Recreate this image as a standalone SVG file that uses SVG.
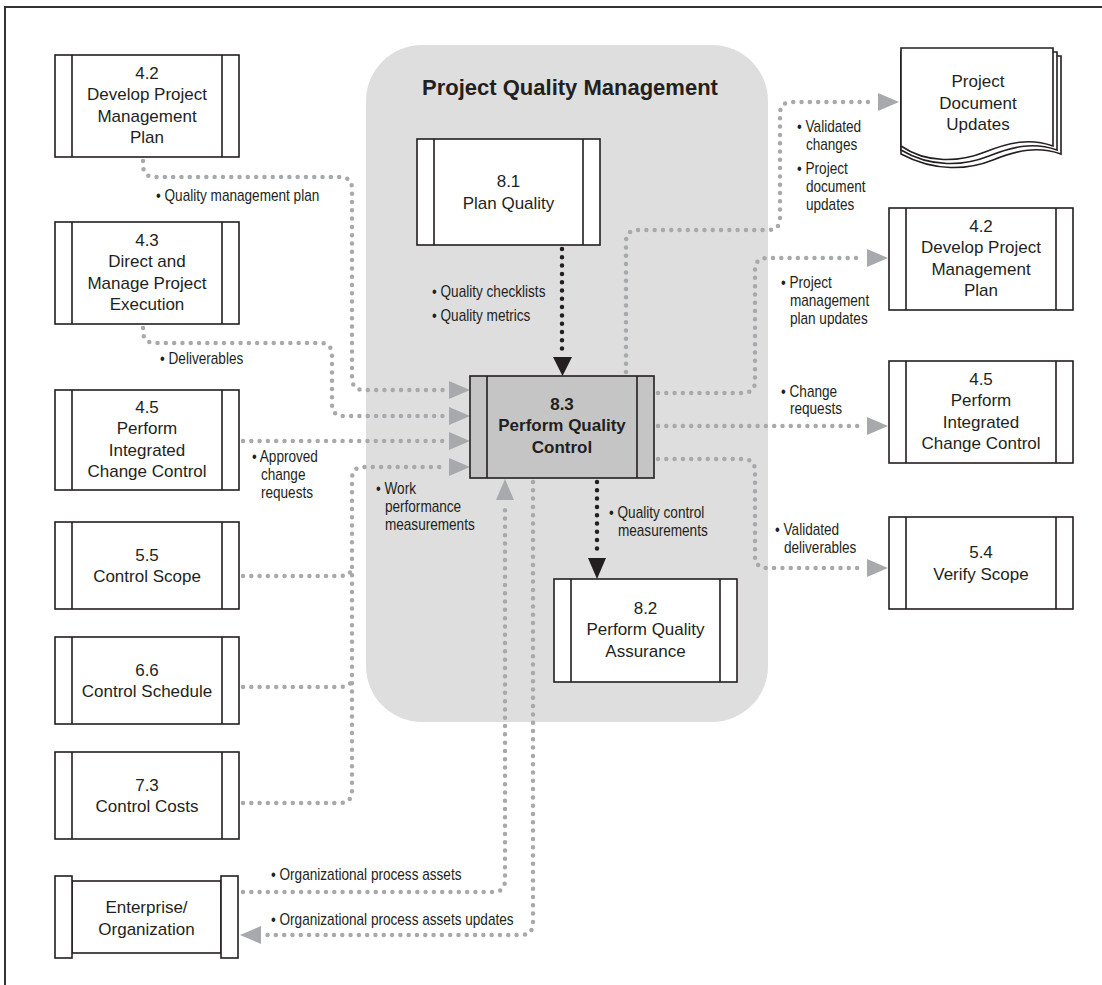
<svg xmlns="http://www.w3.org/2000/svg" width="1102" height="985" viewBox="0 0 1102 985">
<style>
.box{fill:#fff;stroke:#231f20;stroke-width:1.6}
.hot{fill:#c5c5c5}
.bar{stroke:#231f20;stroke-width:1.6;fill:none}
.t{font-family:"Liberation Sans",Arial,sans-serif;font-size:17px;fill:#231f20;text-anchor:middle}
.tb{font-weight:bold}
.lbl{font-family:"Liberation Sans",Arial,sans-serif;font-size:16px;fill:#231f20}
.g{fill:none;stroke:#a7a9ac;stroke-width:4.5;stroke-linecap:round;stroke-dasharray:0 8.3}
.k{fill:none;stroke:#231f20;stroke-width:4.5;stroke-linecap:round;stroke-dasharray:0 8.3}
.ga{fill:#a7a9ac}
.ka{fill:#231f20}
</style>
<rect width="1102" height="985" fill="#fff"/>
<path d="M5,985 V7 H1102" fill="none" stroke="#333" stroke-width="2"/>
<g id="panel">
<rect x="366" y="45" width="402" height="677" rx="56" fill="#dedede"/>
<text x="570" y="95" class="t tb" style="font-size:22px">Project Quality Management</text>
</g>
<g id="connectors">
<path class="g" d="M143,161 V165 Q143,177 155,177 H340 Q352,177 352,189 V378 Q352,390 364,390 H446"/>
<polygon class="ga" points="449,381 470,390 449,399"/>
<path class="g" d="M143,328 V331 Q143,343 155,343 H320 Q332,343 332,355 V404 Q332,416 344,416 H446"/>
<polygon class="ga" points="449,407 470,416 449,425"/>
<path class="g" d="M243,441 H446"/>
<polygon class="ga" points="449,432 470,441 449,450"/>
<path class="g" d="M243,803 H340 Q352,803 352,791 V479 Q352,467 364,467 H446"/>
<path class="g" d="M243,576 H340 Q352,576 352,566"/>
<path class="g" d="M243,687 H340 Q352,687 352,677"/>
<polygon class="ga" points="449,458 470,467 449,476"/>
<path class="k" d="M562,249 V354"/>
<polygon class="ka" points="553,357 572,357 562.5,376"/>
<path class="k" d="M597,482 V555"/>
<polygon class="ka" points="588,558 606,558 597,579"/>
<path class="g" d="M626,372 V242 Q626,230 638,230 H768 Q780,230 780,218 V114 Q780,102 792,102 H875"/>
<polygon class="ga" points="878,93 899,102 878,111"/>
<path class="g" d="M658,393 H743 Q755,393 755,381 V270 Q755,258 767,258 H864"/>
<polygon class="ga" points="867,249 888,258 867,267"/>
<path class="g" d="M658,426 H864"/>
<polygon class="ga" points="867,417 888,426 867,435"/>
<path class="g" d="M658,459 H743 Q755,459 755,471 V556 Q755,568 767,568 H864"/>
<polygon class="ga" points="867,559 888,568 867,577"/>
<path class="g" d="M243,892 H493 Q505,892 505,880 V503"/>
<polygon class="ga" points="496,500 514,500 505,479"/>
<path class="g" d="M533,482 V923 Q533,935 521,935 H264"/>
<polygon class="ga" points="261,926 261,944 240,935"/>
</g>
<g id="labels" class="lbl">
<text transform="translate(156,201) scale(0.85,1)">• Quality management plan</text>
<text transform="translate(160,364) scale(0.85,1)">• Deliverables</text>
<text transform="translate(252,462) scale(0.85,1)">• Approved<tspan x="10.5" y="18">change</tspan><tspan x="10.5" y="36">requests</tspan></text>
<text transform="translate(376,494) scale(0.85,1)">• Work<tspan x="10.5" y="18">performance</tspan><tspan x="10.5" y="36">measurements</tspan></text>
<text transform="translate(432,297) scale(0.85,1)">• Quality checklists</text>
<text transform="translate(432,321) scale(0.85,1)">• Quality metrics</text>
<text transform="translate(609,518) scale(0.85,1)">• Quality control<tspan x="10.5" y="18">measurements</tspan></text>
<text transform="translate(797,132) scale(0.85,1)">• Validated<tspan x="10.5" y="18">changes</tspan></text>
<text transform="translate(797,174) scale(0.85,1)">• Project<tspan x="10.5" y="18">document</tspan><tspan x="10.5" y="36">updates</tspan></text>
<text transform="translate(781,288) scale(0.85,1)">• Project<tspan x="10.5" y="18">management</tspan><tspan x="10.5" y="36">plan updates</tspan></text>
<text transform="translate(781,397) scale(0.85,1)">• Change<tspan x="10.5" y="17">requests</tspan></text>
<text transform="translate(775,535) scale(0.85,1)">• Validated<tspan x="10.5" y="18">deliverables</tspan></text>
<text transform="translate(271,880) scale(0.85,1)">• Organizational process assets</text>
<text transform="translate(271,925) scale(0.85,1)">• Organizational process assets updates</text>
</g>
<g id="n42a">
<rect class="box" x="55" y="55" width="184" height="102"/>
<path class="bar" d="M72,55 V157 M222,55 V157"/>
<text class="t" x="147" y="78.75">4.2<tspan x="147" y="100.25">Develop Project</tspan><tspan x="147" y="121.75">Management</tspan><tspan x="147" y="143.25">Plan</tspan></text>
</g>
<g id="n43">
<rect class="box" x="55" y="222" width="184" height="102"/>
<path class="bar" d="M72,222 V324 M222,222 V324"/>
<text class="t" x="147" y="245.75">4.3<tspan x="147" y="267.25">Direct and</tspan><tspan x="147" y="288.75">Manage Project</tspan><tspan x="147" y="310.25">Execution</tspan></text>
</g>
<g id="n45a">
<rect class="box" x="55" y="390" width="184" height="100"/>
<path class="bar" d="M72,390 V490 M222,390 V490"/>
<text class="t" x="147" y="412.75">4.5<tspan x="147" y="434.25">Perform</tspan><tspan x="147" y="455.75">Integrated</tspan><tspan x="147" y="477.25">Change Control</tspan></text>
</g>
<g id="n55">
<rect class="box" x="55" y="522" width="184" height="87"/>
<path class="bar" d="M72,522 V609 M222,522 V609"/>
<text class="t" x="147" y="560.75">5.5<tspan x="147" y="582.25">Control Scope</tspan></text>
</g>
<g id="n66">
<rect class="box" x="55" y="637" width="184" height="87"/>
<path class="bar" d="M72,637 V724 M222,637 V724"/>
<text class="t" x="147" y="675.75">6.6<tspan x="147" y="697.25">Control Schedule</tspan></text>
</g>
<g id="n73">
<rect class="box" x="55" y="752" width="184" height="87"/>
<path class="bar" d="M72,752 V839 M222,752 V839"/>
<text class="t" x="147" y="790.75">7.3<tspan x="147" y="812.25">Control Costs</tspan></text>
</g>
<g id="enterprise">
<rect class="box" x="72" y="881" width="149" height="72"/>
<rect class="box" x="55" y="876" width="17" height="82"/>
<rect class="box" x="221" y="876" width="17" height="82"/>
<text class="t" x="146.5" y="913">Enterprise/<tspan x="146.5" y="934.5">Organization</tspan></text>
</g>
<g id="n81">
<rect class="box" x="417" y="139" width="183" height="106"/>
<path class="bar" d="M434,139 V245 M583,139 V245"/>
<text class="t" x="508.5" y="187.25">8.1<tspan x="508.5" y="208.75">Plan Quality</tspan></text>
</g>
<g id="n83">
<rect class="box hot" x="470" y="376" width="184" height="102"/>
<path class="bar" d="M487,376 V478 M637,376 V478"/>
<text class="t tb" x="562" y="409.5">8.3<tspan x="562" y="431">Perform Quality</tspan><tspan x="562" y="452.5">Control</tspan></text>
</g>
<g id="n82">
<rect class="box" x="554" y="579" width="183" height="103"/>
<path class="bar" d="M571,579 V682 M720,579 V682"/>
<text class="t" x="645.5" y="613.5">8.2<tspan x="645.5" y="635">Perform Quality</tspan><tspan x="645.5" y="656.5">Assurance</tspan></text>
</g>
<g id="docs">
<path class="box" d="M901,56 H1061 V154 C1038,146 1018,150 993,160 C968,170 935,172 901,154 Z"/>
<path class="box" d="M901,52 H1057 V150 C1034,142 1014,146 989,156 C964,166 931,168 901,150 Z"/>
<path class="box" d="M901,48 H1053 V146 C1030,138 1010,142 985,152 C960,162 927,164 901,146 Z"/>
<text class="t" x="978" y="87">Project<tspan x="978" y="108.5">Document</tspan><tspan x="978" y="130">Updates</tspan></text>
</g>
<g id="n42b">
<rect class="box" x="889" y="208" width="184" height="102"/>
<path class="bar" d="M906,208 V310 M1056,208 V310"/>
<text class="t" x="981" y="231.75">4.2<tspan x="981" y="253.25">Develop Project</tspan><tspan x="981" y="274.75">Management</tspan><tspan x="981" y="296.25">Plan</tspan></text>
</g>
<g id="n45b">
<rect class="box" x="889" y="361" width="184" height="102"/>
<path class="bar" d="M906,361 V463 M1056,361 V463"/>
<text class="t" x="981" y="384.75">4.5<tspan x="981" y="406.25">Perform</tspan><tspan x="981" y="427.75">Integrated</tspan><tspan x="981" y="449.25">Change Control</tspan></text>
</g>
<g id="n54">
<rect class="box" x="889" y="517" width="184" height="92"/>
<path class="bar" d="M906,517 V609 M1056,517 V609"/>
<text class="t" x="981" y="558.25">5.4<tspan x="981" y="579.75">Verify Scope</tspan></text>
</g>
</svg>
